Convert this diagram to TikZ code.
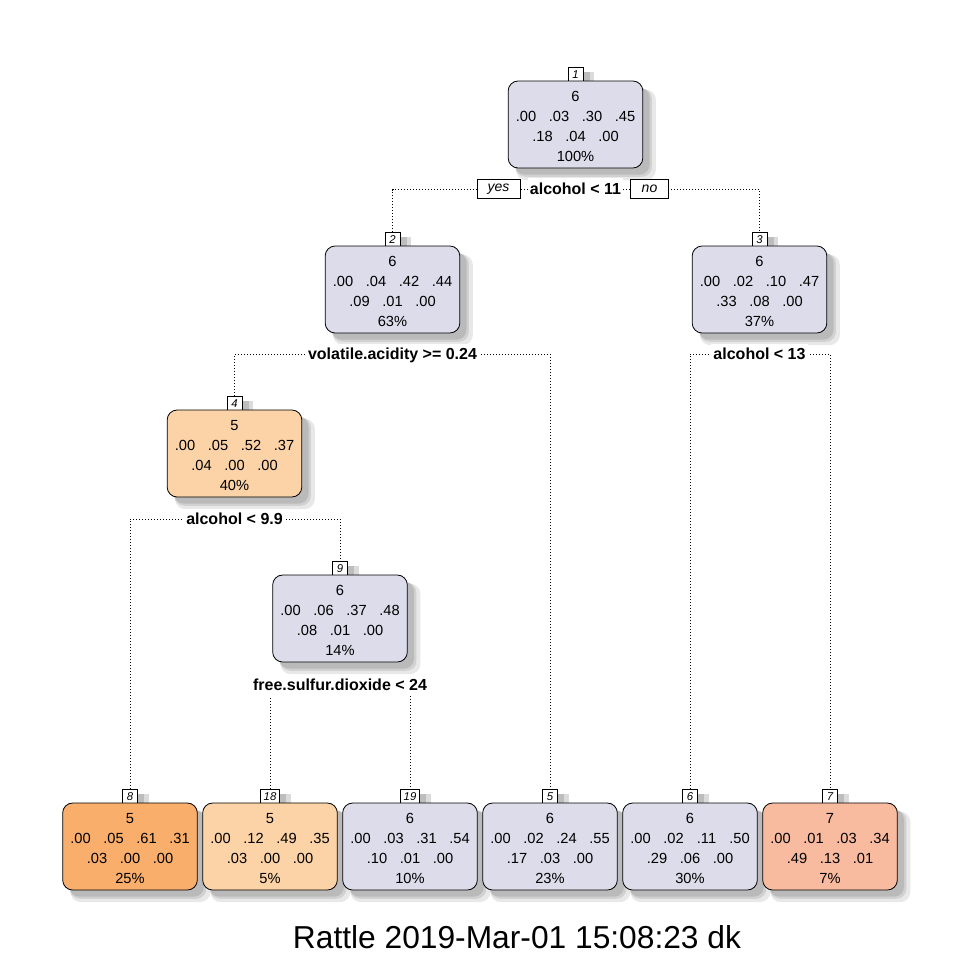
\documentclass[tikz,border=0pt]{standalone}
\usepackage{fontspec}
\setmainfont{Liberation Sans}
\usetikzlibrary{shadows,backgrounds}
\definecolor{lav}{RGB}{220,220,234}
\definecolor{lor}{RGB}{251,211,166}
\definecolor{dor}{RGB}{250,174,108}
\definecolor{sal}{RGB}{249,187,160}
\newcommand\pp[1]{\makebox[24.75pt]{#1}}
\newcommand\nt[9]{\rule{0pt}{10.6pt}#1\\\pp{#2}\pp{#3}\pp{#4}\pp{#5}\\\pp{#6}\pp{#7}\pp{#8}\\#9\%}
\tikzset{
  myshadow/.style={general shadow={shadow xshift=7.5pt, shadow yshift=-7.5pt, shadow scale=1.04, fill=black!9, draw=none},
                   general shadow={shadow xshift=6pt, shadow yshift=-6pt, shadow scale=1.015, fill=black!18, draw=none},
                   general shadow={shadow xshift=5pt, shadow yshift=-5pt, fill=black!27, draw=none}},
  tbox/.style={draw=black, line width=0.6pt, rounded corners=7.5pt, minimum width=101pt, minimum height=65.25pt,
               inner sep=0pt, align=center, font=\fontsize{11}{14.8}\selectfont, myshadow},
  nbox/.style={draw=black, fill=white, line width=0.6pt, inner xsep=2.5pt, inner ysep=0pt, minimum width=11.25pt,
               minimum height=11.25pt, font=\fontsize{8.5}{9}\itshape\selectfont,
               general shadow={shadow xshift=6.5pt, shadow yshift=-4pt, shadow scale=1.15, fill=black!14, draw=none},
               general shadow={shadow xshift=5pt, shadow yshift=-3.5pt, fill=black!26, draw=none}},
  slab/.style={fill=white, inner xsep=1.5pt, inner ysep=0pt, minimum height=15.75pt, text height=10pt, text depth=2.5pt,
               font=\bfseries\fontsize{12}{14}\selectfont},
  yn/.style={draw=black, fill=white, line width=0.6pt, inner sep=0pt, minimum height=14.25pt,
             font=\itshape\fontsize{10.5}{12}\selectfont},
  dl/.style={line width=0.75pt, dash pattern=on 0.75pt off 1.5pt}
}
\begin{document}
\begin{tikzpicture}[x=0.75pt,y=-0.75pt]
\useasboundingbox (0,0) rectangle (960,960);
% id boxes (drawn first so the node boxes lie over their shadows)
\node[nbox] (i1) at (575.5,74.5) {1};
\node[nbox] (i2) at (392.5,239.5) {2};
\node[nbox] (i3) at (759.5,239.5) {3};
\node[nbox] (i4) at (234.5,403.5) {4};
\node[nbox] (i9) at (340,568.5) {9};
\node[nbox] (i8) at (130,796.5) {8};
\node[nbox] (i18) at (270,796.5) {18};
\node[nbox] (i19) at (410,796.5) {19};
\node[nbox] (i5) at (550,796.5) {5};
\node[nbox] (i6) at (690,796.5) {6};
\node[nbox] (i7) at (830,796.5) {7};
% internal nodes
\node[tbox, fill=lav] (n1) at (575.5,124.5) {\nt{6}{.00}{.03}{.30}{.45}{.18}{.04}{.00}{100}};
\node[tbox, fill=lav] (n2) at (392.5,289.5) {\nt{6}{.00}{.04}{.42}{.44}{.09}{.01}{.00}{63}};
\node[tbox, fill=lav] (n3) at (759.5,289.5) {\nt{6}{.00}{.02}{.10}{.47}{.33}{.08}{.00}{37}};
\node[tbox, fill=lor] (n4) at (234.5,453.5) {\nt{5}{.00}{.05}{.52}{.37}{.04}{.00}{.00}{40}};
\node[tbox, fill=lav] (n9) at (340,618.5) {\nt{6}{.00}{.06}{.37}{.48}{.08}{.01}{.00}{14}};
% leaves
\node[tbox, fill=dor] (l8) at (130,846.5) {\nt{5}{.00}{.05}{.61}{.31}{.03}{.00}{.00}{25}};
\node[tbox, fill=lor] (l18) at (270,846.5) {\nt{5}{.00}{.12}{.49}{.35}{.03}{.00}{.00}{5}};
\node[tbox, fill=lav] (l19) at (410,846.5) {\nt{6}{.00}{.03}{.31}{.54}{.10}{.01}{.00}{10}};
\node[tbox, fill=lav] (l5) at (550,846.5) {\nt{6}{.00}{.02}{.24}{.55}{.17}{.03}{.00}{23}};
\node[tbox, fill=lav] (l6) at (690,846.5) {\nt{6}{.00}{.02}{.11}{.50}{.29}{.06}{.00}{30}};
\node[tbox, fill=sal] (l7) at (830,846.5) {\nt{7}{.00}{.01}{.03}{.34}{.49}{.13}{.01}{7}};
% split labels
\node[slab, minimum height=18pt] (s1) at (575.5,189.5) {alcohol < 11};
\node[slab] (s2) at (392.5,354) {volatile.acidity >= 0.24};
\node[slab] (s3) at (759.5,354) {alcohol < 13};
\node[slab] (s4) at (234.5,519) {alcohol < 9.9};
\node[slab] (s5) at (340,685) {free.sulfur.dioxide < 24};
\node[yn, minimum width=32.25pt] (yes) at (498.5,189) {yes};
\node[yn, minimum width=28pt] (no) at (649.5,189) {no};
% connectors
\begin{pgfonlayer}{background}
\draw[dl] (i2.north) |- (s1.center) -| (i3.north);
\draw[dl] (i4.north) |- (s2.center) -| (i5.north);
\draw[dl] (i6.north) |- (s3.center) -| (i7.north);
\draw[dl] (i8.north) |- (s4.center) -| (i9.north);
\draw[dl] (i18.north) |- (s5.center) -| (i19.north);
\end{pgfonlayer}
% title
\node[font=\fontsize{23.8}{28}\selectfont, anchor=base] (title) at (517,948) {Rattle 2019-Mar-01 15:08:23 dk};
\end{tikzpicture}
\end{document}
